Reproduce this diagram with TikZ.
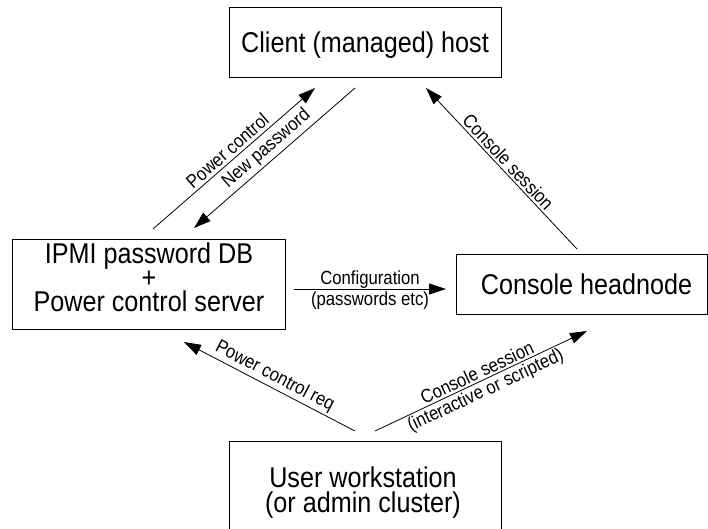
\documentclass[tikz,border=0pt]{standalone}
\usepackage{fontspec}
\setmainfont{Liberation Sans}[FakeStretch=0.88]
\usetikzlibrary{arrows.meta}
\lineskiplimit=-100pt
\begin{document}
\begin{tikzpicture}[x=1pt,y=-1pt,
  boxshape/.style={draw=black, line width=1pt, inner sep=0pt},
  boxtext/.style={inner sep=0pt, align=center, font=\fontsize{28.6}{24.2}\selectfont},
  conn/.style={line width=0.8pt, -{Triangle[length=17pt,width=11pt]}},
  connrev/.style={line width=0.8pt, {Triangle[length=17pt,width=11pt]}-},
  lab/.style={inner sep=0pt, sloped, font=\fontsize{19}{19}\selectfont}]
\clip (0,0) rectangle (708,528);
% boxes
\node[boxshape, minimum width=272pt, minimum height=70pt] (client) at (365,42) {};
\node[boxshape, minimum width=273pt, minimum height=90pt] (ipmi) at (148.5,284) {};
\node[boxshape, minimum width=251pt, minimum height=60pt] (head) at (581.5,284) {};
\node[boxshape, minimum width=272pt, minimum height=103pt] (user) at (365,492.5) {};
% box texts
\node[boxtext, anchor=base] (clientt) at (365,52.5) {Client (managed) host};
\node[boxtext, anchor=base] (headt) at (586.5,294.5) {Console headnode};
\node[boxtext, anchor=north] (ipmit) at (149,242.5) {IPMI password DB\\+\\Power control server};
\node[boxtext, anchor=north] (usert) at (363,467) {User workstation\\(or admin cluster)};
% connector end points
\coordinate (pcA) at (153,229);
\coordinate (pcB) at (315,88);
\coordinate (npA) at (194,228);
\coordinate (npB) at (355,88);
\coordinate (csA) at (426,88);
\coordinate (csB) at (577,249);
\coordinate (cfA) at (294,289);
\coordinate (cfB) at (446,289);
\coordinate (prA) at (184,342);
\coordinate (prB) at (355,431);
\coordinate (c2A) at (375,431);
\coordinate (c2B) at (587,331);
% connectors
\draw[conn] (pcA) -- node[lab, above=3pt] {Power control} (pcB);
\draw[connrev] (npA) -- node[lab, above=3pt] {New password} (npB);
\draw[connrev] (csA) -- node[lab, above=2pt] {Console session} (csB);
\draw[conn] (cfA) -- node[lab, above=0pt] {Configuration} node[lab, below=2.5pt] {(passwords etc)} (cfB);
\draw[connrev] (prA) -- node[lab, above=2pt] {Power control req} (prB);
\draw[conn] (c2A) -- node[lab, above=2pt] {Console session} node[lab, below=2pt] {(interactive or scripted)} (c2B);
\end{tikzpicture}
\end{document}
